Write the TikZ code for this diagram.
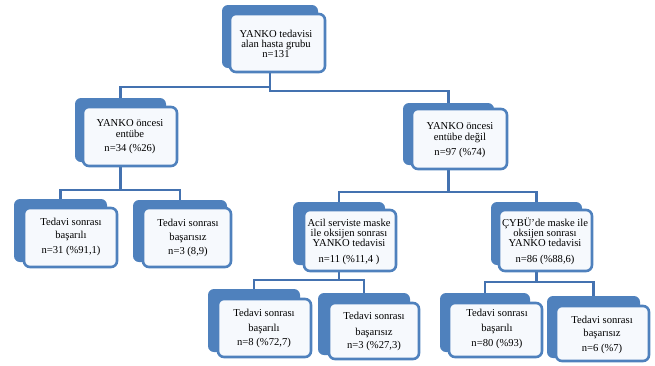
\documentclass[tikz,border=0pt]{standalone}
\usepackage{fontspec}
\setmainfont{Liberation Serif}
\usetikzlibrary{fit}
\definecolor{accent}{RGB}{79,129,189}
\definecolor{conn}{RGB}{68,114,176}
\definecolor{frontfill}{RGB}{246,249,253}
\pgfdeclarelayer{bg}
\pgfsetlayers{bg,main}
\newcommand{\firststrut}{\rule{0pt}{9.5pt}}
\begin{document}
\begin{tikzpicture}[x=1pt,y=-1pt,
  backbox/.style={fill=accent, draw=none, rounded corners=6pt, inner sep=0pt},
  frontbox/.style={fill=frontfill, draw=accent, line width=2.6pt, rounded corners=6pt, inner sep=0pt},
  txt/.style={align=center, inner sep=0pt, anchor=north, font=\fontsize{10.6}{11}\selectfont},
  link/.style={draw=conn, line width=2.4pt}]
\useasboundingbox (0,0) rectangle (655,365);

% top
\node[backbox, fit={(222,5) (318,68)}] (topb) {};
\node[frontbox, fit={(230,14) (325,72)}] (topf) {};
\node[txt] (topt) at (276,27.5) {\firststrut YANKO tedavisi\\[-1pt]alan hasta grubu\\[-1pt]n=131};

% level 1
\node[backbox, fit={(75,98) (166,162)}] (lab) {};
\node[frontbox, fit={(83,107) (177,166)}] (laf) {};
\node[txt] (lat) at (130,117) {\firststrut YANKO öncesi\\entübe\\[3pt]n=34 (\%26)};

\node[backbox, fit={(403,103) (494,165)}] (rab) {};
\node[frontbox, fit={(412,109) (507,169)}] (raf) {};
\node[txt] (rat) at (460,119.5) {\firststrut YANKO öncesi\\[0.7pt]entübe değil\\[3.3pt]n=97 (\%74)};

% level 2 left
\node[backbox, fit={(14,199) (107,262)}] (l1b) {};
\node[frontbox, fit={(24,208) (117,267)}] (l1f) {};
\node[txt] (l1t) at (71,215.5) {\firststrut Tedavi sonrası\\[2.3pt]başarılı\\[3.7pt]n=31 (\%91,1)};

\node[backbox, fit={(133,200) (227,262)}] (l2b) {};
\node[frontbox, fit={(143,208) (231,267)}] (l2f) {};
\node[txt] (l2t) at (188,217) {\firststrut Tedavi sonrası\\[2.3pt]başarısız\\[3pt]n=3 (8,9)};

% level 2 right
\node[backbox, fit={(293,202) (385,265)}] (acb) {};
\node[frontbox, fit={(304,210) (396,271)}] (acf) {};
\node[txt] (act) at (349,217) {\firststrut Acil serviste maske\\[-1pt]ile oksijen sonrası\\[-1pt]YANKO tedavisi\\[5pt]n=11 (\%11,4 )};

\node[backbox, fit={(491,202) (582,265)}] (cyb) {};
\node[frontbox, fit={(499,210) (592,271)}] (cyf) {};
\node[txt] (cyt) at (545,217) {\firststrut ÇYBÜ\char"0027 de maske ile\\[-1pt]oksijen sonrası\\[-1pt]YANKO tedavisi\\[5pt]n=86 (\%88,6)};

% level 3
\node[backbox, fit={(208,289) (300,352)}] (a1b) {};
\node[frontbox, fit={(218,299) (311,357)}] (a1f) {};
\node[txt] (a1t) at (264,307) {\firststrut Tedavi sonrası\\[4pt]başarılı\\[2.3pt]n=8 (\%72,7)};

\node[backbox, fit={(318,293) (410,355)}] (a2b) {};
\node[frontbox, fit={(329,303) (419,359)}] (a2f) {};
\node[txt] (a2t) at (374,309.5) {\firststrut Tedavi sonrası\\[5pt]başarısız\\[2pt]n=3 (\%27,3)};

\node[backbox, fit={(440,293) (530,352)}] (b1b) {};
\node[frontbox, fit={(449,303) (542,357)}] (b1f) {};
\node[txt] (b1t) at (497,307) {\firststrut Tedavi sonrası\\[4pt]başarılı\\[3.3pt]n=80 (\%93)};

\node[backbox, fit={(547,296) (640,358)}] (b2b) {};
\node[frontbox, fit={(556,306) (649,361)}] (b2f) {};
\node[txt] (b2t) at (602,313.5) {\firststrut Tedavi sonrası\\[2.7pt]başarısız\\[4pt]n=6 (\%7)};

\begin{pgfonlayer}{bg}
\draw[link] (topb.south) -- ++(0,19) -| (lab.north);
\draw[link] (topb.south) -- ++(0,23) -| (rab.north);
\draw[link] (lab.south) -- ++(0,28) -| (l1b.north);
\draw[link] (lab.south) -- ++(0,28) -| (l2b.north);
\draw[link] (rab.south) -- ++(0,27) -| (acb.north);
\draw[link] (rab.south) -- ++(0,27) -| (cyb.north);
\draw[link] (acb.south) -- ++(0,15) -| (a1b.north);
\draw[link] (acb.south) -- ++(0,15) -| (a2b.north);
\draw[link] (cyb.south) -- ++(0,17) -| (b1b.north);
\draw[link] (cyb.south) -- ++(0,17) -| (b2b.north);
\end{pgfonlayer}
\end{tikzpicture}
\end{document}
